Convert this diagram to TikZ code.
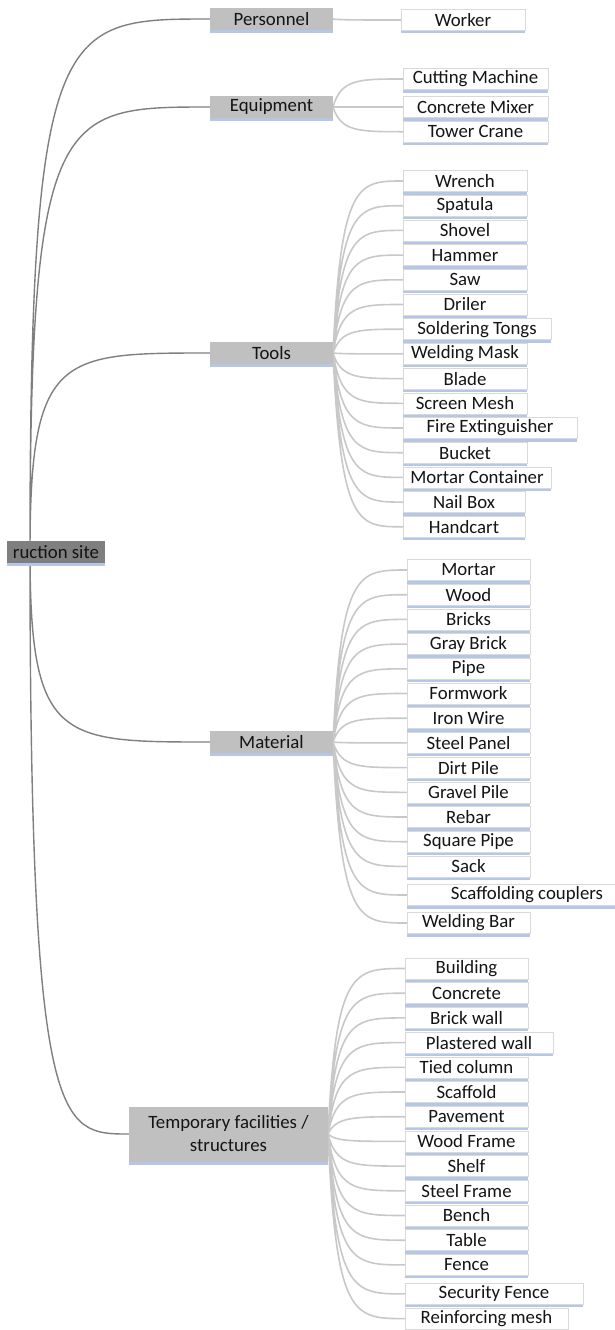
\documentclass[tikz,border=0pt]{standalone}
\usepackage{fontspec}
\setmainfont{Carlito}
\usepackage{tikz}
\usetikzlibrary{positioning,calc,backgrounds}
\definecolor{rootgray}{HTML}{7F7F7F}
\definecolor{branchgray}{HTML}{C0C0C0}
\definecolor{kidline}{HTML}{D9D9D9}
\definecolor{barblue}{HTML}{B4C7E7}
\definecolor{limbgray}{HTML}{7F7F7F}
\definecolor{twiggray}{HTML}{C8C8C8}
\definecolor{ink}{HTML}{141414}

\begin{document}
\begin{tikzpicture}[x=1pt,y=-1pt,node distance=3.7pt,
    mapfont/.style={font=\fontsize{18.8}{23}\selectfont,text=ink},
    underbar/.style={append after command={\pgfextra{\fill[barblue]
        (\tikzlastnode.south west) rectangle ([yshift=-3pt]\tikzlastnode.south east);}}},
    rootbox/.style={fill=rootgray,minimum width=98pt,minimum height=22pt,inner sep=0pt,
                    outer sep=0pt,mapfont,underbar},
    branch/.style={fill=branchgray,minimum width=123pt,minimum height=22pt,inner sep=0pt,
                   outer sep=0pt,mapfont,underbar,anchor=west},
    kid/.style={draw=kidline,line width=0.6pt,fill=white,minimum width=124pt,
                minimum height=21pt,inner sep=0pt,outer sep=0pt,mapfont,underbar},
    kidunder/.style={below=of #1.south west,anchor=north west},
    limb/.style={draw=limbgray,line width=1.4pt,
      to path={.. controls (\tikztostart |- \tikztotarget)
               and ($(\tikztostart |- \tikztotarget)+(30,0)$) .. (\tikztotarget)}},
    twig/.style={draw=twiggray,line width=1.6pt,
      to path={.. controls ($(\tikztostart |- \tikztotarget)+(8,0)$)
               and ($(\tikztostart |- \tikztotarget)+(25,0)$) .. (\tikztotarget)}}
  ]
    \useasboundingbox (0,0) rectangle (615,1330);
    \coordinate (hub) at (30,552);

    % main branches
    \node[branch] (personnel) at (210,19) {Personnel};
    \node[branch] (equipment) at (210,107) {Equipment};
    \node[branch] (tools) at (210,353) {Tools};
    \node[branch] (material) at (210,742) {Material};
    \node[branch,minimum width=199pt,minimum height=55pt,align=center] (temporary)
          at (129,1134) {Temporary facilities /\\structures};

    % personnel and equipment
    \node[kid,anchor=west] (worker) at (401,20) {Worker};
    \node[kid,anchor=west,minimum width=145pt] (cutter) at (403,79) {Cutting Machine};
    \node[kid,minimum width=145pt,below=7pt of cutter.south west,anchor=north west]
          (mixer) {Concrete Mixer};
    \node[kid,minimum width=145pt,kidunder=mixer] (crane) {Tower Crane};

    % tools
    \node[kid,anchor=west] (wrench) at (403,181) {Wrench};
    \node[kid,kidunder=wrench] (spatula) {Spatula};
    \node[kid,kidunder=spatula] (shovel) {Shovel};
    \node[kid,kidunder=shovel] (hammer) {Hammer};
    \node[kid,kidunder=hammer] (saw) {Saw};
    \node[kid,kidunder=saw] (driler) {Driler};
    \node[kid,kidunder=driler,minimum width=148pt] (tongs) {Soldering Tongs};
    \node[kid,kidunder=tongs] (mask) {Welding Mask};
    \node[kid,kidunder=mask] (blade) {Blade};
    \node[kid,kidunder=blade] (screen) {Screen Mesh};
    \node[kid,kidunder=screen,minimum width=174pt] (extinguisher) {Fire Extinguisher};
    \node[kid,kidunder=extinguisher] (bucket) {Bucket};
    \node[kid,kidunder=bucket,minimum width=148pt] (container) {Mortar Container};
    \node[kid,kidunder=container,minimum width=122pt] (nailbox) {Nail Box};
    \node[kid,kidunder=nailbox,minimum width=122pt] (handcart) {Handcart};

    % material
    \node[kid,anchor=west,minimum width=123pt] (mortar) at (407,570) {Mortar};
    \node[kid,kidunder=mortar,minimum width=123pt] (wood) {Wood};
    \node[kid,kidunder=wood,minimum width=123pt] (bricks) {Bricks};
    \node[kid,kidunder=bricks,minimum width=123pt] (graybrick) {Gray Brick};
    \node[kid,kidunder=graybrick,minimum width=123pt] (pipe) {Pipe};
    \node[kid,kidunder=pipe,minimum width=123pt] (formwork) {Formwork};
    \node[kid,kidunder=formwork,minimum width=123pt] (wire) {Iron Wire};
    \node[kid,kidunder=wire,minimum width=123pt] (steelpanel) {Steel Panel};
    \node[kid,kidunder=steelpanel,minimum width=123pt] (dirtpile) {Dirt Pile};
    \node[kid,kidunder=dirtpile,minimum width=123pt] (gravelpile) {Gravel Pile};
    \node[kid,kidunder=gravelpile,minimum width=123pt] (rebar) {Rebar};
    \node[kid,kidunder=rebar,minimum width=123pt] (squarepipe) {Square Pipe};
    \node[kid,kidunder=squarepipe,minimum width=123pt] (sack) {Sack};
    \node[kid,minimum width=240pt,below=7.6pt of sack.south west,anchor=north west]
          (couplers) {Scaffolding couplers};
    \node[kid,minimum width=123pt,below=7pt of couplers.south west,anchor=north west]
          (weldingbar) {Welding Bar};

    % temporary facilities / structures
    \node[kid,anchor=west,minimum width=123pt] (building) at (405,968.5) {Building};
    \node[kid,kidunder=building,minimum width=123pt] (concrete) {Concrete};
    \node[kid,kidunder=concrete,minimum width=123pt] (brickwall) {Brick wall};
    \node[kid,kidunder=brickwall,minimum width=148pt] (plastered) {Plastered wall};
    \node[kid,kidunder=plastered,minimum width=123pt] (tiedcolumn) {Tied column};
    \node[kid,kidunder=tiedcolumn,minimum width=123pt] (scaffold) {Scaffold};
    \node[kid,kidunder=scaffold,minimum width=123pt] (pavement) {Pavement};
    \node[kid,kidunder=pavement,minimum width=123pt] (woodframe) {Wood Frame};
    \node[kid,kidunder=woodframe,minimum width=123pt] (shelf) {Shelf};
    \node[kid,kidunder=shelf,minimum width=123pt] (steelframe) {Steel Frame};
    \node[kid,kidunder=steelframe,minimum width=123pt] (bench) {Bench};
    \node[kid,kidunder=bench,minimum width=123pt] (table) {Table};
    \node[kid,kidunder=table,minimum width=123pt] (fence) {Fence};
    \node[kid,minimum width=178pt,below=8pt of fence.south west,anchor=north west]
          (securityfence) {Security Fence};
    \node[kid,kidunder=securityfence,minimum width=163pt] (mesh) {Reinforcing mesh};

    \begin{pgfonlayer}{background}
      \draw[limb] (hub) to (personnel.west) (hub) to (equipment.west)
                  (hub) to (tools.west) (hub) to (material.west)
                  (hub) to (temporary.west);
      \draw[twig] (personnel.east) to (worker.west);
      \draw[twig] (equipment.east) to (cutter.west) (equipment.east) to (mixer.west)
                  (equipment.east) to (crane.west);
      \draw[twig] (tools.east) to (wrench.west) (tools.east) to (spatula.west)
                  (tools.east) to (shovel.west) (tools.east) to (hammer.west)
                  (tools.east) to (saw.west) (tools.east) to (driler.west)
                  (tools.east) to (tongs.west) (tools.east) to (mask.west)
                  (tools.east) to (blade.west) (tools.east) to (screen.west)
                  (tools.east) to (extinguisher.west) (tools.east) to (bucket.west)
                  (tools.east) to (container.west) (tools.east) to (nailbox.west)
                  (tools.east) to (handcart.west);
      \draw[twig] (material.east) to (mortar.west) (material.east) to (wood.west)
                  (material.east) to (bricks.west) (material.east) to (graybrick.west)
                  (material.east) to (pipe.west) (material.east) to (formwork.west)
                  (material.east) to (wire.west) (material.east) to (steelpanel.west)
                  (material.east) to (dirtpile.west) (material.east) to (gravelpile.west)
                  (material.east) to (rebar.west) (material.east) to (squarepipe.west)
                  (material.east) to (sack.west) (material.east) to (couplers.west)
                  (material.east) to (weldingbar.west);
      \draw[twig] (temporary.east) to (building.west) (temporary.east) to (concrete.west)
                  (temporary.east) to (brickwall.west) (temporary.east) to (plastered.west)
                  (temporary.east) to (tiedcolumn.west) (temporary.east) to (scaffold.west)
                  (temporary.east) to (pavement.west) (temporary.east) to (woodframe.west)
                  (temporary.east) to (shelf.west) (temporary.east) to (steelframe.west)
                  (temporary.east) to (bench.west) (temporary.east) to (table.west)
                  (temporary.east) to (fence.west) (temporary.east) to (securityfence.west)
                  (temporary.east) to (mesh.west);
    \end{pgfonlayer}

    \node[rootbox] (site) at (56,552) {ruction site};
  \end{tikzpicture}
\end{document}
